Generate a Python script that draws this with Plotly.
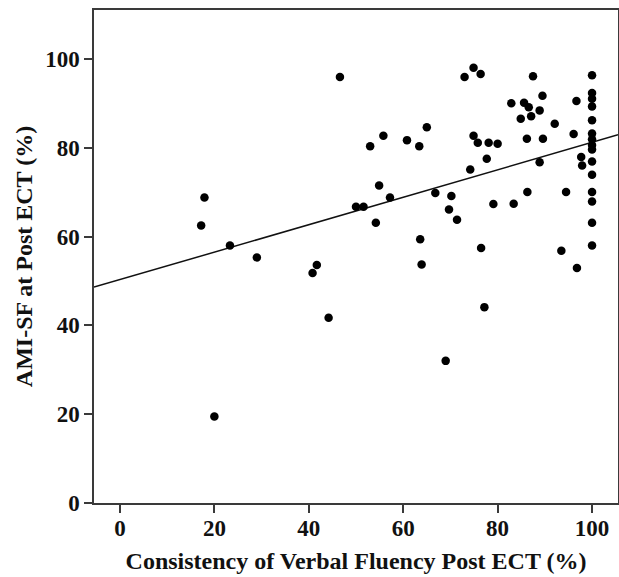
import plotly.graph_objects as go

# Consistency of verbal fluency post ECT (%)
x_vals = [17.9, 17.2, 20.0, 23.3, 29.0, 40.8, 41.7, 44.2, 46.6, 50.0,
          51.6, 53.0, 54.2, 54.9, 55.8, 57.2, 60.8, 63.4, 63.6, 63.9,
          65.0, 66.8, 69.0, 69.7, 70.2, 71.4, 73.0, 74.2, 74.9, 74.9,
          75.8, 76.4, 76.5, 77.2, 77.7, 78.1, 79.1, 80.0, 82.9, 83.4,
          84.9, 85.6, 86.2, 86.3, 86.6, 87.1, 87.5, 88.9, 88.9, 89.5,
          89.6, 92.1, 93.5, 94.5, 96.1, 96.7, 96.8, 97.7, 97.9,
          100, 100, 100, 100, 100, 100, 100, 100, 100, 100,
          100, 100, 100, 100, 100]
# AMI-SF at post ECT (%)
y_vals = [68.8, 62.5, 19.5, 58.0, 55.3, 51.8, 53.6, 41.7, 95.9, 66.7,
          66.7, 80.3, 63.1, 71.5, 82.7, 68.8, 81.7, 80.3, 59.4, 53.7,
          84.6, 69.8, 32.0, 66.1, 69.1, 63.8, 95.9, 75.1, 98.0, 82.7,
          81.1, 96.6, 57.4, 44.1, 77.5, 81.1, 67.3, 80.9, 90.0, 67.4,
          86.5, 90.1, 82.0, 70.0, 89.1, 87.1, 96.1, 88.4, 76.7, 91.7,
          82.0, 85.4, 56.8, 70.0, 83.1, 90.5, 52.9, 77.9, 76.0,
          96.3, 92.3, 91.0, 89.3, 86.2, 83.2, 81.9, 80.6, 79.6, 76.9,
          73.9, 70.0, 67.9, 63.1, 58.0]

# fitted regression line
fit_intercept = 50.3
fit_slope = 0.309
x_range = [-5.5, 105.5]
y_range = [0, 111]

x_ticks = [0, 20, 40, 60, 80, 100]
y_ticks = [0, 20, 40, 60, 80, 100]

x_title = "Consistency of Verbal Fluency Post ECT (%)"
y_title = "AMI-SF at Post ECT (%)"

fit_x = x_range
fit_y = [fit_intercept + fit_slope * v for v in fit_x]

FONT = "Liberation Serif, Times New Roman, serif"
AXIS_COLOR = "#3a3a3a"
TEXT_COLOR = "#111111"

fig = go.Figure()
fig.add_trace(go.Scatter(
    x=fit_x, y=fit_y, mode="lines",
    line=dict(color="#111111", width=1.5),
    hoverinfo="skip", showlegend=False,
))
fig.add_trace(go.Scatter(
    x=x_vals, y=y_vals, mode="markers",
    marker=dict(color="#000000", size=8.5),
    showlegend=False,
))

axis_common = dict(
    showgrid=False, zeroline=False,
    showline=True, linecolor=AXIS_COLOR, linewidth=1.5,
    mirror=True, automargin=False,
    ticks="outside", ticklen=8, tickwidth=1.5, tickcolor=AXIS_COLOR,
    tickfont=dict(family=FONT, size=23, color=TEXT_COLOR),
)

fig.update_xaxes(
    range=x_range, tickvals=x_ticks,
    ticktext=[f"<b>{t}</b>" for t in x_ticks],
    ticklabelstandoff=-4,
    title=dict(text=f"<b>{x_title}</b>", font=dict(family=FONT, size=24, color=TEXT_COLOR),
               standoff=12),
    **axis_common,
)
fig.update_yaxes(
    range=y_range, tickvals=y_ticks,
    ticktext=[f"<b>{t}</b>" for t in y_ticks],
    title=dict(text=f"<b>{y_title}</b>", font=dict(family=FONT, size=24, color=TEXT_COLOR),
               standoff=6),
    **axis_common,
)

fig.update_layout(
    width=619, height=577,
    margin=dict(l=94, r=1, t=10, b=74),
    plot_bgcolor="white", paper_bgcolor="white",
)

fig.write_html(
    "out.html",
    config={"displayModeBar": False},
    post_script="document.body.style.margin='0';document.body.style.overflow='hidden';",
)
